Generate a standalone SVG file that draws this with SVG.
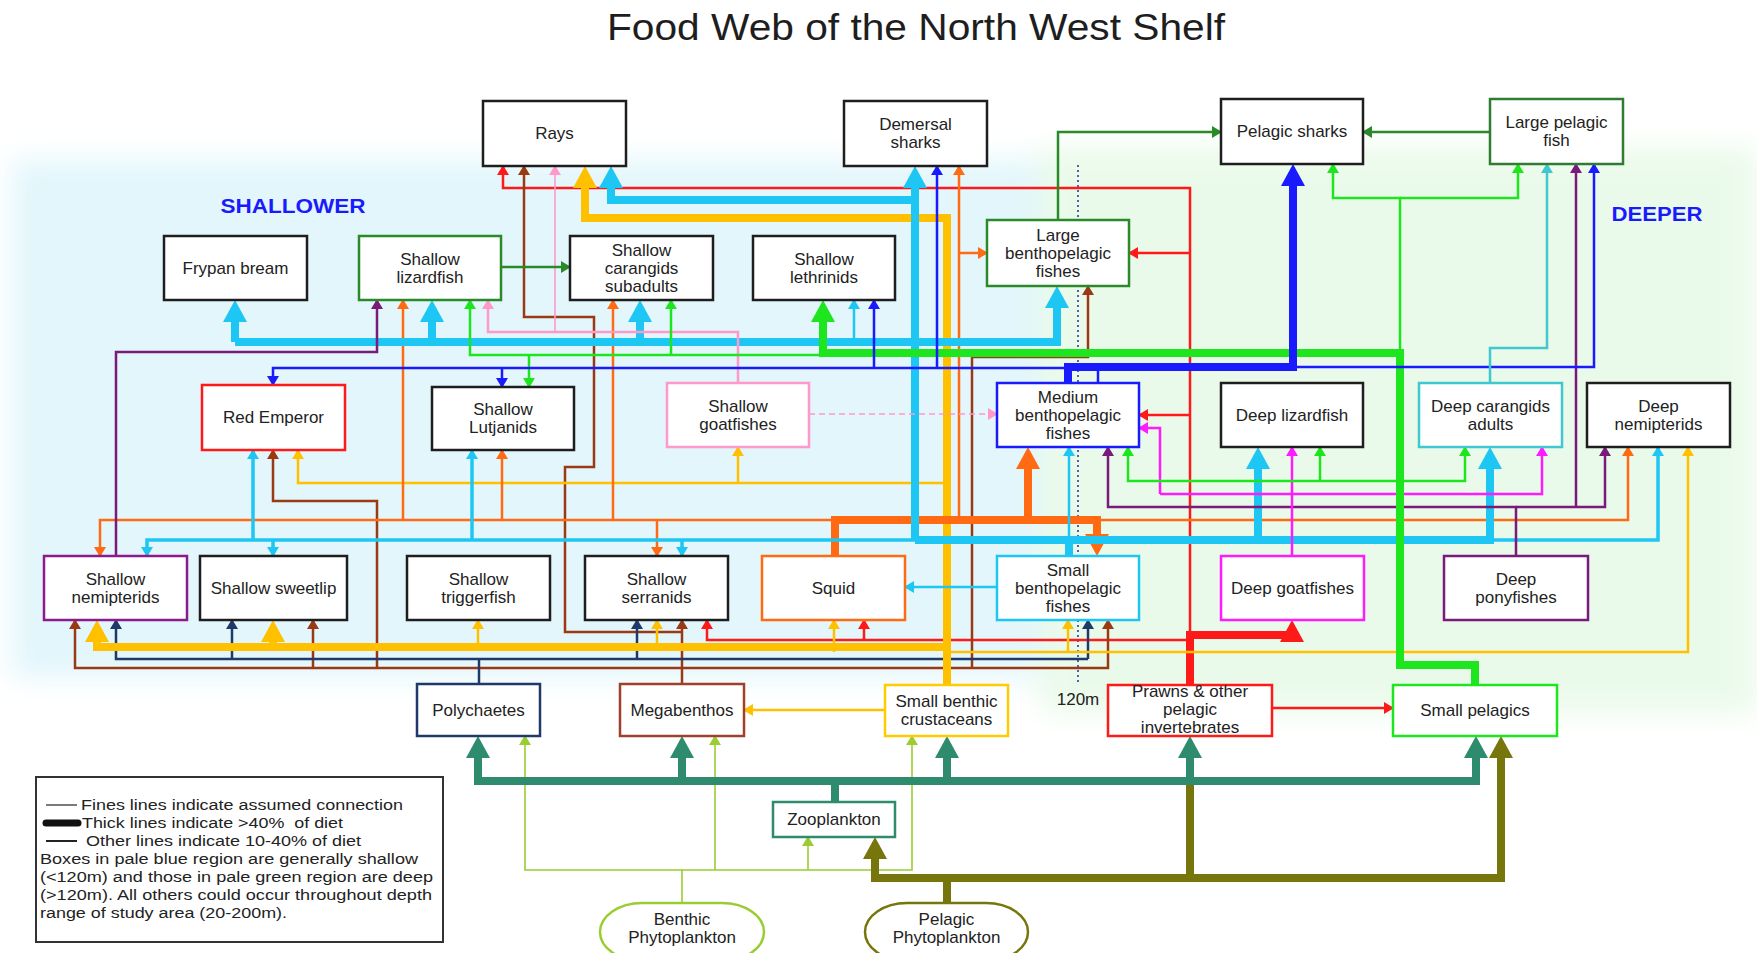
<svg xmlns="http://www.w3.org/2000/svg" width="1757" height="953" viewBox="0 0 1757 953">
<style>
.bx{fill:#fff;stroke-width:2.5}
.k{stroke:#1e1e1e}
.lbl{font-family:"Liberation Sans",Arial,sans-serif;font-size:17px;fill:#222;text-anchor:middle}
.lg{font-family:"Liberation Sans",Arial,sans-serif;font-size:15.5px;fill:#222}
.c path{fill:none;stroke-linejoin:miter}
.md{stroke-width:2.5}.fn{stroke-width:1.6}.th{stroke-width:8}.me{stroke-width:3.5}
.red{stroke:#ff1a1a}.cy{stroke:#1ec6f4}.or{stroke:#ff6a13}.go{stroke:#ffc000}.li{stroke:#1ee61e}
.dg{stroke:#2a8a2a}.bl{stroke:#1a1aff}.pu{stroke:#7a1a7a}.ma{stroke:#ff1aff}.pk{stroke:#ff99cc}
.br{stroke:#9a3a14}.nv{stroke:#1f3a6a}.sg{stroke:#2e8b6e}.ol{stroke:#76760c}.yg{stroke:#9acd32}.te{stroke:#40c8d0}
</style>
<defs>
<filter id="soft" x="-20%" y="-20%" width="140%" height="140%"><feGaussianBlur stdDeviation="14"/></filter>
<marker id="t-red" viewBox="0 0 10 12" markerWidth="10" markerHeight="12" refX="9" refY="6" orient="auto" markerUnits="userSpaceOnUse"><path d="M0,0L10,6L0,12z" fill="#ff1a1a"/></marker>
<marker id="t-cy" viewBox="0 0 10 12" markerWidth="10" markerHeight="12" refX="9" refY="6" orient="auto" markerUnits="userSpaceOnUse"><path d="M0,0L10,6L0,12z" fill="#1ec6f4"/></marker>
<marker id="t-or" viewBox="0 0 10 12" markerWidth="10" markerHeight="12" refX="9" refY="6" orient="auto" markerUnits="userSpaceOnUse"><path d="M0,0L10,6L0,12z" fill="#ff6a13"/></marker>
<marker id="t-go" viewBox="0 0 10 12" markerWidth="10" markerHeight="12" refX="9" refY="6" orient="auto" markerUnits="userSpaceOnUse"><path d="M0,0L10,6L0,12z" fill="#ffc000"/></marker>
<marker id="t-li" viewBox="0 0 10 12" markerWidth="10" markerHeight="12" refX="9" refY="6" orient="auto" markerUnits="userSpaceOnUse"><path d="M0,0L10,6L0,12z" fill="#1ee61e"/></marker>
<marker id="t-dg" viewBox="0 0 10 12" markerWidth="10" markerHeight="12" refX="9" refY="6" orient="auto" markerUnits="userSpaceOnUse"><path d="M0,0L10,6L0,12z" fill="#2a8a2a"/></marker>
<marker id="t-bl" viewBox="0 0 10 12" markerWidth="10" markerHeight="12" refX="9" refY="6" orient="auto" markerUnits="userSpaceOnUse"><path d="M0,0L10,6L0,12z" fill="#1a1aff"/></marker>
<marker id="t-pu" viewBox="0 0 10 12" markerWidth="10" markerHeight="12" refX="9" refY="6" orient="auto" markerUnits="userSpaceOnUse"><path d="M0,0L10,6L0,12z" fill="#7a1a7a"/></marker>
<marker id="t-ma" viewBox="0 0 10 12" markerWidth="10" markerHeight="12" refX="9" refY="6" orient="auto" markerUnits="userSpaceOnUse"><path d="M0,0L10,6L0,12z" fill="#ff1aff"/></marker>
<marker id="t-pk" viewBox="0 0 10 12" markerWidth="10" markerHeight="12" refX="9" refY="6" orient="auto" markerUnits="userSpaceOnUse"><path d="M0,0L10,6L0,12z" fill="#ff99cc"/></marker>
<marker id="t-br" viewBox="0 0 10 12" markerWidth="10" markerHeight="12" refX="9" refY="6" orient="auto" markerUnits="userSpaceOnUse"><path d="M0,0L10,6L0,12z" fill="#9a3a14"/></marker>
<marker id="t-nv" viewBox="0 0 10 12" markerWidth="10" markerHeight="12" refX="9" refY="6" orient="auto" markerUnits="userSpaceOnUse"><path d="M0,0L10,6L0,12z" fill="#1f3a6a"/></marker>
<marker id="t-yg" viewBox="0 0 10 12" markerWidth="10" markerHeight="12" refX="9" refY="6" orient="auto" markerUnits="userSpaceOnUse"><path d="M0,0L10,6L0,12z" fill="#9acd32"/></marker>
<marker id="t-te" viewBox="0 0 10 12" markerWidth="10" markerHeight="12" refX="9" refY="6" orient="auto" markerUnits="userSpaceOnUse"><path d="M0,0L10,6L0,12z" fill="#40c8d0"/></marker>
<marker id="T-red" viewBox="0 0 22 24" markerWidth="22" markerHeight="24" refX="12" refY="12" orient="auto" markerUnits="userSpaceOnUse"><path d="M0,0L22,12L0,24z" fill="#ff1a1a"/></marker>
<marker id="T-cy" viewBox="0 0 22 24" markerWidth="22" markerHeight="24" refX="12" refY="12" orient="auto" markerUnits="userSpaceOnUse"><path d="M0,0L22,12L0,24z" fill="#1ec6f4"/></marker>
<marker id="T-or" viewBox="0 0 22 24" markerWidth="22" markerHeight="24" refX="12" refY="12" orient="auto" markerUnits="userSpaceOnUse"><path d="M0,0L22,12L0,24z" fill="#ff6a13"/></marker>
<marker id="T-go" viewBox="0 0 22 24" markerWidth="22" markerHeight="24" refX="12" refY="12" orient="auto" markerUnits="userSpaceOnUse"><path d="M0,0L22,12L0,24z" fill="#ffc000"/></marker>
<marker id="T-li" viewBox="0 0 22 24" markerWidth="22" markerHeight="24" refX="12" refY="12" orient="auto" markerUnits="userSpaceOnUse"><path d="M0,0L22,12L0,24z" fill="#1ee61e"/></marker>
<marker id="T-bl" viewBox="0 0 22 24" markerWidth="22" markerHeight="24" refX="12" refY="12" orient="auto" markerUnits="userSpaceOnUse"><path d="M0,0L22,12L0,24z" fill="#1a1aff"/></marker>
<marker id="T-sg" viewBox="0 0 22 24" markerWidth="22" markerHeight="24" refX="12" refY="12" orient="auto" markerUnits="userSpaceOnUse"><path d="M0,0L22,12L0,24z" fill="#2e8b6e"/></marker>
<marker id="T-ol" viewBox="0 0 22 24" markerWidth="22" markerHeight="24" refX="12" refY="12" orient="auto" markerUnits="userSpaceOnUse"><path d="M0,0L22,12L0,24z" fill="#76760c"/></marker>
</defs>

<rect width="1757" height="953" fill="#ffffff"/>
<g id="regions" filter="url(#soft)">
<rect x="12" y="160" width="1064" height="518" fill="#e2f6fb"/>
<rect x="1040" y="148" width="717" height="565" fill="#eafaea"/>
</g>

<text x="916" y="40" font-family="'Liberation Sans',Arial,sans-serif" font-size="37" fill="#1e1e1e" text-anchor="middle" textLength="618" lengthAdjust="spacingAndGlyphs">Food Web of the North West Shelf</text>
<text x="293" y="213" font-family="'Liberation Sans',Arial,sans-serif" font-size="20" font-weight="bold" fill="#1a1aff" text-anchor="middle" textLength="145" lengthAdjust="spacingAndGlyphs">SHALLOWER</text>
<text x="1657" y="221" font-family="'Liberation Sans',Arial,sans-serif" font-size="20" font-weight="bold" fill="#1a1aff" text-anchor="middle" textLength="91" lengthAdjust="spacingAndGlyphs">DEEPER</text>

<g id="connectors" class="c">
<path d="M1078,165V683" stroke="#2a2aa0" stroke-width="1.5" stroke-dasharray="2,3"/>
<path class="red md" d="M1190,635V188H503V166" marker-end="url(#t-red)"/>
<path class="red md" d="M1190,253H1129" marker-end="url(#t-red)"/>
<path class="red md" d="M1190,415H1139" marker-end="url(#t-red)"/>
<path class="red md" d="M1190,640H707V620" marker-end="url(#t-red)"/>
<path class="red md" d="M864,640V620" marker-end="url(#t-red)"/>
<path class="red md" d="M1272,708H1393" marker-end="url(#t-red)"/>
<path class="red th" d="M1190,685V635H1292V630" marker-end="url(#T-red)"/>
<path class="br md" d="M682,684V620" marker-end="url(#t-br)"/>
<path class="br md" d="M682,668H75V620" marker-end="url(#t-br)"/>
<path class="br md" d="M313,668V620" marker-end="url(#t-br)"/>
<path class="br md" d="M682,668H1108V620" marker-end="url(#t-br)"/>
<path class="br md" d="M377,668V501H273V450" marker-end="url(#t-br)"/>
<path class="br md" d="M682,632H565V467H594V317H524V166" marker-end="url(#t-br)"/>
<path class="br md" d="M972,668V357H1088V286" marker-end="url(#t-br)"/>
<path class="nv md" d="M479,684V659"/>
<path class="nv md" d="M1088,659H116V620" marker-end="url(#t-nv)"/>
<path class="nv md" d="M232,659V620" marker-end="url(#t-nv)"/>
<path class="nv md" d="M637,659V620" marker-end="url(#t-nv)"/>
<path class="nv md" d="M1088,659V620" marker-end="url(#t-nv)"/>
<path class="go md" d="M947,483H298V450" marker-end="url(#t-go)"/>
<path class="go md" d="M738,483V447" marker-end="url(#t-go)"/>
<path class="go md" d="M947,652H1688V447" marker-end="url(#t-go)"/>
<path class="go md" d="M478,647V620" marker-end="url(#t-go)"/>
<path class="go md" d="M657,647V620" marker-end="url(#t-go)"/>
<path class="go md" d="M834,652V620" marker-end="url(#t-go)"/>
<path class="go md" d="M1068,652V620" marker-end="url(#t-go)"/>
<path class="go md" d="M885,710H744" marker-end="url(#t-go)"/>
<path class="go th" d="M947,685V218H585V176" marker-end="url(#T-go)"/>
<path class="go th" d="M947,647H97V630" marker-end="url(#T-go)"/>
<path class="go th" d="M273,647V630" marker-end="url(#T-go)"/>
<path class="or md" d="M835,520H100V556" marker-end="url(#t-or)"/>
<path class="or md" d="M403,520V300" marker-end="url(#t-or)"/>
<path class="or md" d="M502,520V450" marker-end="url(#t-or)"/>
<path class="or md" d="M613,520V300" marker-end="url(#t-or)"/>
<path class="or md" d="M657,520V556" marker-end="url(#t-or)"/>
<path class="or md" d="M959,520V166" marker-end="url(#t-or)"/>
<path class="or md" d="M959,253H987" marker-end="url(#t-or)"/>
<path class="or md" d="M1097,520H1628V447" marker-end="url(#t-or)"/>
<path class="or th" d="M835,556V520H1097V546" marker-end="url(#T-or)"/>
<path class="or th" d="M1028,520V457" marker-end="url(#T-or)"/>
<path class="cy me" d="M915,540H147V556" marker-end="url(#t-cy)"/>
<path class="cy me" d="M273,540V556" marker-end="url(#t-cy)"/>
<path class="cy me" d="M682,540V556" marker-end="url(#t-cy)"/>
<path class="cy me" d="M253,540V450" marker-end="url(#t-cy)"/>
<path class="cy me" d="M472,540V450" marker-end="url(#t-cy)"/>
<path class="cy me" d="M1490,540H1658V447" marker-end="url(#t-cy)"/>
<path class="cy md" d="M1069,540V447" marker-end="url(#t-cy)"/>
<path class="cy md" d="M997,587H905" marker-end="url(#t-cy)"/>
<path class="cy md" d="M854,342V300" marker-end="url(#t-cy)"/>
<path class="cy th" d="M1069,556V540"/>
<path class="cy th" d="M915,540V176" marker-end="url(#T-cy)"/>
<path class="cy th" d="M915,200H611V176" marker-end="url(#T-cy)"/>
<path class="cy th" d="M915,540H1490V457" marker-end="url(#T-cy)"/>
<path class="cy th" d="M1258,540V457" marker-end="url(#T-cy)"/>
<path class="cy th" d="M235,342H1057V296" marker-end="url(#T-cy)"/>
<path class="cy th" d="M235,342V310" marker-end="url(#T-cy)"/>
<path class="cy th" d="M432,342V310" marker-end="url(#T-cy)"/>
<path class="cy th" d="M640,342V310" marker-end="url(#T-cy)"/>
<path class="pk md" d="M738,383V332H488V300" marker-end="url(#t-pk)"/>
<path class="pk fn" d="M555,332V166" marker-end="url(#t-pk)"/>
<path class="pk fn" d="M809,414H997" stroke-dasharray="6,4" marker-end="url(#t-pk)"/>
<path class="pu md" d="M116,556V352H377V300" marker-end="url(#t-pu)"/>
<path class="pu md" d="M1516,556V507H1108V447" marker-end="url(#t-pu)"/>
<path class="pu md" d="M1516,507H1605V447" marker-end="url(#t-pu)"/>
<path class="pu md" d="M1576,507V164" marker-end="url(#t-pu)"/>
<path class="ma md" d="M1292,556V447" marker-end="url(#t-ma)"/>
<path class="ma md" d="M1160,494H1542V447" marker-end="url(#t-ma)"/>
<path class="ma md" d="M1160,494V428H1139" marker-end="url(#t-ma)"/>
<path class="li md" d="M1400,353V198H1333V164" marker-end="url(#t-li)"/>
<path class="li md" d="M1400,198H1518V164" marker-end="url(#t-li)"/>
<path class="li md" d="M823,355H470V300" marker-end="url(#t-li)"/>
<path class="li md" d="M671,355V300" marker-end="url(#t-li)"/>
<path class="li md" d="M529,355V387" marker-end="url(#t-li)"/>
<path class="li md" d="M1400,481H1128V447" marker-end="url(#t-li)"/>
<path class="li md" d="M1320,481V447" marker-end="url(#t-li)"/>
<path class="li md" d="M1400,481H1465V447" marker-end="url(#t-li)"/>
<path class="li th" d="M1475,685V665H1400V353H823V310" marker-end="url(#T-li)"/>
<path class="bl md" d="M1098,383V368H273V385" marker-end="url(#t-bl)"/>
<path class="bl md" d="M502,368V387" marker-end="url(#t-bl)"/>
<path class="bl md" d="M874,368V300" marker-end="url(#t-bl)"/>
<path class="bl md" d="M937,368V166" marker-end="url(#t-bl)"/>
<path class="bl md" d="M1293,367H1594V164" marker-end="url(#t-bl)"/>
<path class="bl th" d="M1068,383V367H1293V174" marker-end="url(#T-bl)"/>
<path class="te md" d="M1490,383V348H1547V164" marker-end="url(#t-te)"/>
<path class="dg md" d="M1058,220V132H1221" marker-end="url(#t-dg)"/>
<path class="dg md" d="M1490,132H1363" marker-end="url(#t-dg)"/>
<path class="dg md" d="M501,267H570" marker-end="url(#t-dg)"/>
<path class="yg fn" d="M682,903V870H525V736" marker-end="url(#t-yg)"/>
<path class="yg fn" d="M715,870V736" marker-end="url(#t-yg)"/>
<path class="yg fn" d="M682,870H912V736" marker-end="url(#t-yg)"/>
<path class="yg fn" d="M808,870V837" marker-end="url(#t-yg)"/>
<path class="ol th" d="M947,903V878H875V847" marker-end="url(#T-ol)"/>
<path class="ol th" d="M947,878H1501V746" marker-end="url(#T-ol)"/>
<path class="ol th" d="M1190,878V781"/>
<path class="sg th" d="M835,802V781"/>
<path class="sg th" d="M835,781H478V746" marker-end="url(#T-sg)"/>
<path class="sg th" d="M682,781V746" marker-end="url(#T-sg)"/>
<path class="sg th" d="M947,781V746" marker-end="url(#T-sg)"/>
<path class="sg th" d="M1190,781V746" marker-end="url(#T-sg)"/>
<path class="sg th" d="M835,781H1476V746" marker-end="url(#T-sg)"/>
</g>

<g id="rays"><rect class="bx k" x="483" y="101" width="143" height="65"/><text class="lbl" x="554.5" y="139">Rays</text></g>
<g id="demersal-sharks"><rect class="bx k" x="844" y="101" width="143" height="65"/><text class="lbl" x="915.5" y="130">Demersal</text><text class="lbl" x="915.5" y="148">sharks</text></g>
<g id="pelagic-sharks"><rect class="bx k" x="1221" y="99" width="142" height="65"/><text class="lbl" x="1292" y="137">Pelagic sharks</text></g>
<g id="large-pelagic-fish"><rect class="bx" stroke="#2e7d32" x="1490" y="99" width="133" height="65"/><text class="lbl" x="1556.5" y="128">Large pelagic</text><text class="lbl" x="1556.5" y="146">fish</text></g>
<g id="frypan-bream"><rect class="bx k" x="164" y="236" width="143" height="64"/><text class="lbl" x="235.5" y="274">Frypan bream</text></g>
<g id="shallow-lizardfish"><rect class="bx" stroke="#2a8a2a" x="359" y="236" width="142" height="64"/><text class="lbl" x="430" y="265">Shallow</text><text class="lbl" x="430" y="283">lizardfish</text></g>
<g id="shallow-carangids"><rect class="bx k" x="570" y="236" width="143" height="64"/><text class="lbl" x="641.5" y="256">Shallow</text><text class="lbl" x="641.5" y="274">carangids</text><text class="lbl" x="641.5" y="292">subadults</text></g>
<g id="shallow-lethrinids"><rect class="bx k" x="753" y="236" width="142" height="64"/><text class="lbl" x="824" y="265">Shallow</text><text class="lbl" x="824" y="283">lethrinids</text></g>
<g id="large-benthopelagic"><rect class="bx" stroke="#2a8a2a" x="987" y="220" width="142" height="66"/><text class="lbl" x="1058" y="241">Large</text><text class="lbl" x="1058" y="259">benthopelagic</text><text class="lbl" x="1058" y="277">fishes</text></g>
<g id="red-emperor"><rect class="bx" stroke="#ff1a1a" x="202" y="385" width="143" height="65"/><text class="lbl" x="273.5" y="423">Red Emperor</text></g>
<g id="shallow-lutjanids"><rect class="bx k" x="432" y="387" width="142" height="63"/><text class="lbl" x="503" y="415">Shallow</text><text class="lbl" x="503" y="433">Lutjanids</text></g>
<g id="shallow-goatfishes"><rect class="bx" stroke="#ff99cc" x="667" y="383" width="142" height="64"/><text class="lbl" x="738" y="412">Shallow</text><text class="lbl" x="738" y="430">goatfishes</text></g>
<g id="medium-benthopelagic"><rect class="bx" stroke="#1a1aff" x="997" y="383" width="142" height="64"/><text class="lbl" x="1068" y="403">Medium</text><text class="lbl" x="1068" y="421">benthopelagic</text><text class="lbl" x="1068" y="439">fishes</text></g>
<g id="deep-lizardfish"><rect class="bx k" x="1221" y="383" width="142" height="64"/><text class="lbl" x="1292" y="421">Deep lizardfish</text></g>
<g id="deep-carangids"><rect class="bx" stroke="#40c8d0" x="1419" y="383" width="143" height="64"/><text class="lbl" x="1490.5" y="412">Deep carangids</text><text class="lbl" x="1490.5" y="430">adults</text></g>
<g id="deep-nemipterids"><rect class="bx k" x="1587" y="383" width="143" height="64"/><text class="lbl" x="1658.5" y="412">Deep</text><text class="lbl" x="1658.5" y="430">nemipterids</text></g>
<g id="shallow-nemipterids"><rect class="bx" stroke="#8b1a8b" x="44" y="556" width="143" height="64"/><text class="lbl" x="115.5" y="585">Shallow</text><text class="lbl" x="115.5" y="603">nemipterids</text></g>
<g id="shallow-sweetlip"><rect class="bx k" x="200" y="556" width="147" height="64"/><text class="lbl" x="273.5" y="594">Shallow sweetlip</text></g>
<g id="shallow-triggerfish"><rect class="bx k" x="407" y="556" width="143" height="64"/><text class="lbl" x="478.5" y="585">Shallow</text><text class="lbl" x="478.5" y="603">triggerfish</text></g>
<g id="shallow-serranids"><rect class="bx k" x="585" y="556" width="143" height="64"/><text class="lbl" x="656.5" y="585">Shallow</text><text class="lbl" x="656.5" y="603">serranids</text></g>
<g id="squid"><rect class="bx" stroke="#ff6a13" x="762" y="556" width="143" height="64"/><text class="lbl" x="833.5" y="594">Squid</text></g>
<g id="small-benthopelagic"><rect class="bx" stroke="#1ec6f4" x="997" y="556" width="142" height="64"/><text class="lbl" x="1068" y="576">Small</text><text class="lbl" x="1068" y="594">benthopelagic</text><text class="lbl" x="1068" y="612">fishes</text></g>
<g id="deep-goatfishes"><rect class="bx" stroke="#ff1aff" x="1221" y="556" width="143" height="64"/><text class="lbl" x="1292.5" y="594">Deep goatfishes</text></g>
<g id="deep-ponyfishes"><rect class="bx" stroke="#7a1a7a" x="1444" y="556" width="144" height="64"/><text class="lbl" x="1516" y="585">Deep</text><text class="lbl" x="1516" y="603">ponyfishes</text></g>
<g id="polychaetes"><rect class="bx" stroke="#1f3a6a" x="417" y="684" width="123" height="52"/><text class="lbl" x="478.5" y="716">Polychaetes</text></g>
<g id="megabenthos"><rect class="bx" stroke="#a0402a" x="620" y="684" width="124" height="52"/><text class="lbl" x="682" y="716">Megabenthos</text></g>
<g id="small-benthic-crustaceans"><rect class="bx" stroke="#ffcc00" x="885" y="685" width="123" height="51"/><text class="lbl" x="946.5" y="707">Small benthic</text><text class="lbl" x="946.5" y="725">crustaceans</text></g>
<g id="depth-label"><text class="lbl" x="1078" y="705">120m</text></g>
<g id="prawns"><rect class="bx" stroke="#ff1a1a" x="1108" y="685" width="164" height="51"/><text class="lbl" x="1190" y="697">Prawns &amp; other</text><text class="lbl" x="1190" y="715">pelagic</text><text class="lbl" x="1190" y="733">invertebrates</text></g>
<g id="small-pelagics"><rect class="bx" stroke="#1ee61e" x="1393" y="685" width="164" height="51"/><text class="lbl" x="1475" y="716">Small pelagics</text></g>
<g id="zooplankton"><rect class="bx" stroke="#2e8b6e" x="773" y="802" width="122" height="35"/><text class="lbl" x="834" y="825">Zooplankton</text></g>
<g id="benthic-phytoplankton"><rect class="bx" stroke="#9acd32" x="600" y="903" width="164" height="58" rx="42" ry="30"/><text class="lbl" x="682" y="925">Benthic</text><text class="lbl" x="682" y="943">Phytoplankton</text></g>
<g id="pelagic-phytoplankton"><rect class="bx" stroke="#76760c" x="865" y="903" width="163" height="58" rx="42" ry="30"/><text class="lbl" x="946.5" y="925">Pelagic</text><text class="lbl" x="946.5" y="943">Phytoplankton</text></g>

<g id="legend">
<rect x="36" y="777" width="407" height="165" fill="#fff" stroke="#333" stroke-width="2"/>
<path d="M46,805H77" stroke="#222" stroke-width="1.2"/>
<path d="M46,823H78" stroke="#111" stroke-width="7" stroke-linecap="round"/>
<path d="M46,841H77" stroke="#222" stroke-width="2"/>
<text class="lg" x="81" y="810" textLength="322" lengthAdjust="spacingAndGlyphs">Fines lines indicate assumed connection</text>
<text class="lg" x="82" y="828" textLength="261" lengthAdjust="spacingAndGlyphs" xml:space="preserve">Thick lines indicate &gt;40%  of diet</text>
<text class="lg" x="86" y="846" textLength="275" lengthAdjust="spacingAndGlyphs">Other lines indicate 10-40% of diet</text>
<text class="lg" x="40" y="864" textLength="378" lengthAdjust="spacingAndGlyphs">Boxes in pale blue region are generally shallow</text>
<text class="lg" x="40" y="882" textLength="393" lengthAdjust="spacingAndGlyphs">(&lt;120m) and those in pale green region are deep</text>
<text class="lg" x="40" y="900" textLength="392" lengthAdjust="spacingAndGlyphs">(&gt;120m). All others could occur throughout depth</text>
<text class="lg" x="40" y="918" textLength="247" lengthAdjust="spacingAndGlyphs">range of study area (20-200m).</text>
</g>
</svg>
